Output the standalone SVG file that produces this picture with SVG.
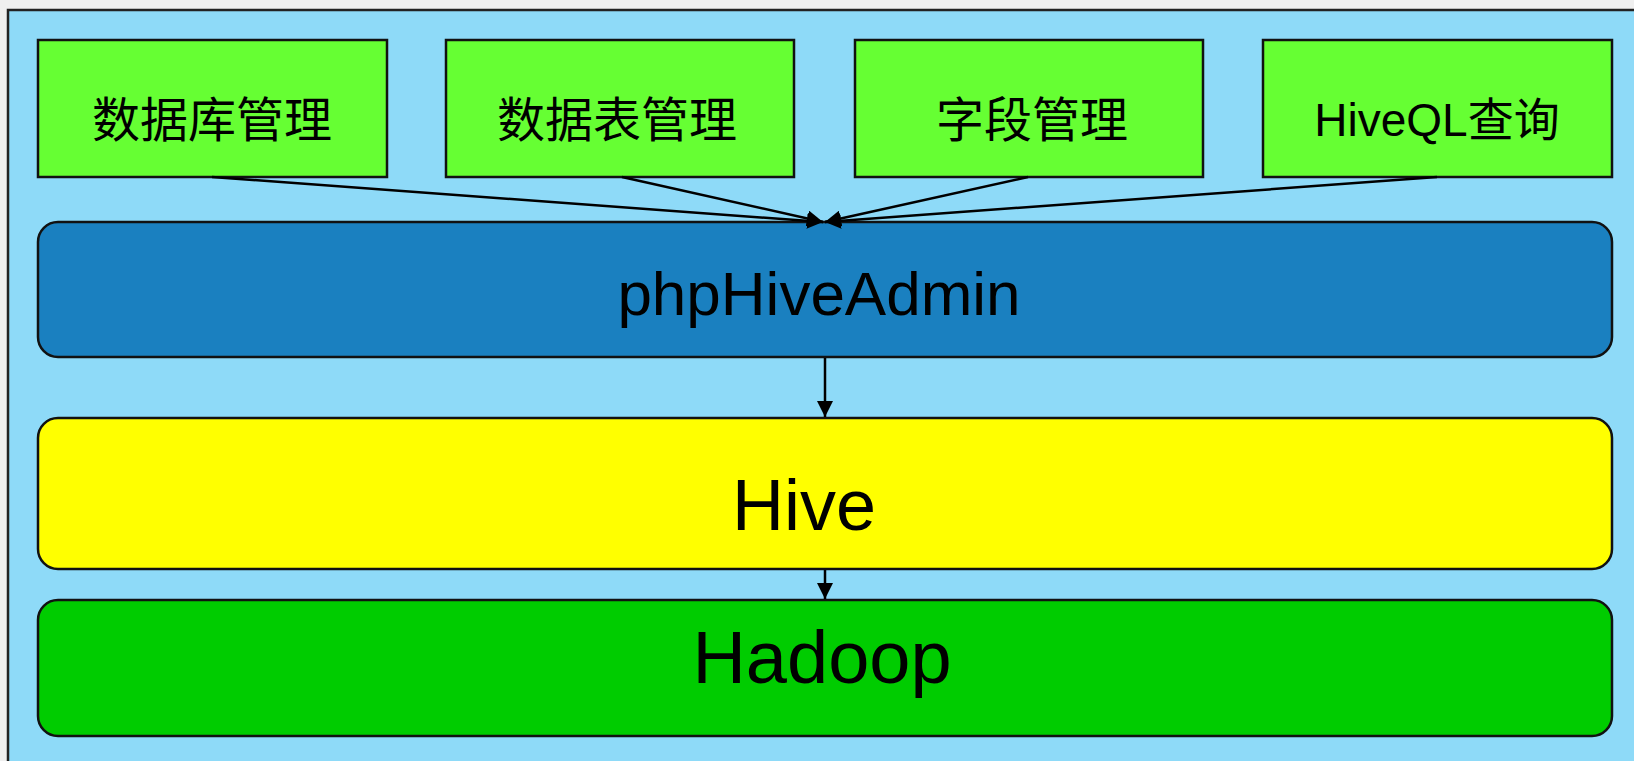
<svg xmlns="http://www.w3.org/2000/svg" width="1634" height="761" viewBox="0 0 1634 761">
<style>
.top{fill:#66FF33;stroke:#111;stroke-width:2.5}
.layer{stroke:#111;stroke-width:2.5}
.cn{font-family:"Noto Sans CJK SC","Liberation Sans",sans-serif;font-size:48px;fill:#000;text-anchor:middle}
.en{font-family:"Liberation Sans",Arial,sans-serif;fill:#000;text-anchor:middle}
.conn{stroke:#000;stroke-width:2.5;fill:none}
</style>
<defs>
<marker id="arr" markerUnits="userSpaceOnUse" markerWidth="18" markerHeight="16" refX="16" refY="8" orient="auto">
<path d="M0,0 L16,8 L0,16 Z" fill="#000"/>
</marker>
</defs>
<rect x="0" y="0" width="1634" height="761" fill="#EFEFEF"/>
<rect x="8" y="10" width="1640" height="760" fill="#8EDAF8" stroke="#222" stroke-width="2.5"/>
<g id="n-db">
<rect class="top" x="38" y="40" width="349" height="137"/>
<text class="cn" x="212" y="137">数据库管理</text>
</g>
<g id="n-table">
<rect class="top" x="446" y="40" width="348" height="137"/>
<text class="cn" x="617" y="137">数据表管理</text>
</g>
<g id="n-field">
<rect class="top" x="855" y="40" width="348" height="137"/>
<text class="cn" x="1032" y="137">字段管理</text>
</g>
<g id="n-hql">
<rect class="top" x="1263" y="40" width="349" height="137"/>
<text class="en" x="1437" y="136" font-size="46"><tspan>HiveQL</tspan><tspan font-family="Noto Sans CJK SC,sans-serif">查询</tspan></text>
</g>
<g id="n-php">
<rect class="layer" x="38" y="222" width="1574" height="135" rx="20" fill="#1A80C0"/>
<text class="en" x="819" y="315" font-size="62">phpHiveAdmin</text>
</g>
<g id="n-hive">
<rect class="layer" x="38" y="418" width="1574" height="151" rx="20" fill="#FFFF00"/>
<text class="en" x="804" y="530" font-size="72">Hive</text>
</g>
<g id="n-hadoop">
<rect class="layer" x="38" y="600" width="1574" height="136" rx="20" fill="#00CC00"/>
<text class="en" x="822" y="683" font-size="74">Hadoop</text>
</g>
<g id="connectors">
<line class="conn" x1="212" y1="177" x2="823" y2="222" marker-end="url(#arr)"/>
<line class="conn" x1="622" y1="177" x2="823" y2="222" marker-end="url(#arr)"/>
<line class="conn" x1="1028" y1="177" x2="825" y2="222" marker-end="url(#arr)"/>
<line class="conn" x1="1437" y1="177" x2="825" y2="222" marker-end="url(#arr)"/>
<line class="conn" x1="825" y1="358" x2="825" y2="417" marker-end="url(#arr)"/>
<line class="conn" x1="825" y1="570" x2="825" y2="599" marker-end="url(#arr)"/>
</g>
</svg>
